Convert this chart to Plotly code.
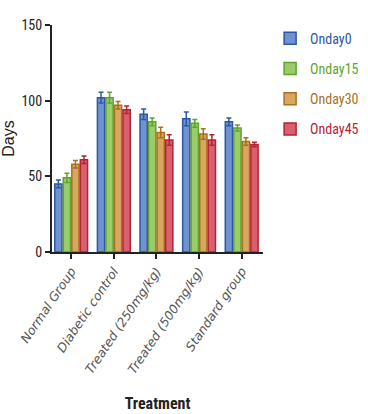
import plotly.graph_objects as go

groups = ["Normal Group", "Diabetic control", "Treated (250mg/kg)", "Treated (500mg/kg)", "Standard group"]
series = ["Onday0", "Onday15", "Onday30", "Onday45"]

onday0 = [45, 102, 91, 88, 86]
onday15 = [49, 102, 86, 85, 82]
onday30 = [58, 97, 79, 78, 73]
onday45 = [61, 94, 74, 74, 71]

err0 = [2.5, 3.5, 3.5, 4.5, 2.5]
err15 = [3, 3.5, 2.5, 2.5, 2]
err30 = [2.5, 2.5, 3.5, 3.5, 2.5]
err45 = [2.5, 2.5, 3.5, 3.5, 1.5]

values = [onday0, onday15, onday30, onday45]
errors = [err0, err15, err30, err45]
fills = ["#6f93cf", "#9acd6a", "#d9a55f", "#d96070"]
edges = ["#2c58a4", "#5ea42e", "#a8701f", "#b52234"]

fig = go.Figure()
for name, vals, errs, fc, ec in zip(series, values, errors, fills, edges):
    fig.add_trace(go.Bar(
        x=groups, y=vals,
        name=f'<span style="color:{ec}">{name}</span>',
        legendgroup=name,
        marker=dict(color=fc, line=dict(color=ec, width=1.5)),
        error_y=dict(type="data", array=errs, visible=True, color=ec,
                     thickness=1.5, width=2.5),
    ))

narrow = "Liberation Sans Narrow, Roboto Condensed, Liberation Sans, Arial"
axis_font = dict(family=narrow, size=14, color="#222")

fig.update_layout(
    width=368, height=414,
    margin=dict(l=52, r=105, t=25, b=162, autoexpand=False),
    paper_bgcolor="white", plot_bgcolor="white",
    barmode="group", bargap=0.2, bargroupgap=0.15,
    showlegend=True,
    legend=dict(xref="container", yref="container", x=0.734, y=0.945,
                xanchor="left", yanchor="top",
                font=dict(family=narrow, size=14),
                tracegroupgap=9, itemwidth=30, bgcolor="rgba(0,0,0,0)"),
    xaxis=dict(
        showline=True, linecolor="#222", linewidth=2,
        ticks="outside", ticklen=5, tickwidth=1.5, tickcolor="#222",
        tickangle=-56,
        tickfont=dict(family="DejaVu Sans, Arial", size=12.5, color="#555", style="italic"),
        title=dict(text="<b>Treatment</b>", font=dict(family=narrow, size=16, color="#222"), standoff=22),
        range=[-0.45, 4.5],
    ),
    yaxis=dict(
        range=[0, 150], tickvals=[0, 50, 100, 150],
        showline=True, linecolor="#222", linewidth=2,
        ticks="outside", ticklen=5, tickwidth=1.5, tickcolor="#222",
        showgrid=False, zeroline=False,
        tickfont=axis_font,
        title=dict(text="Days", font=dict(family="Liberation Sans, Arial", size=16, color="#222"), standoff=10),
    ),
)

fig.write_html("out.html")
